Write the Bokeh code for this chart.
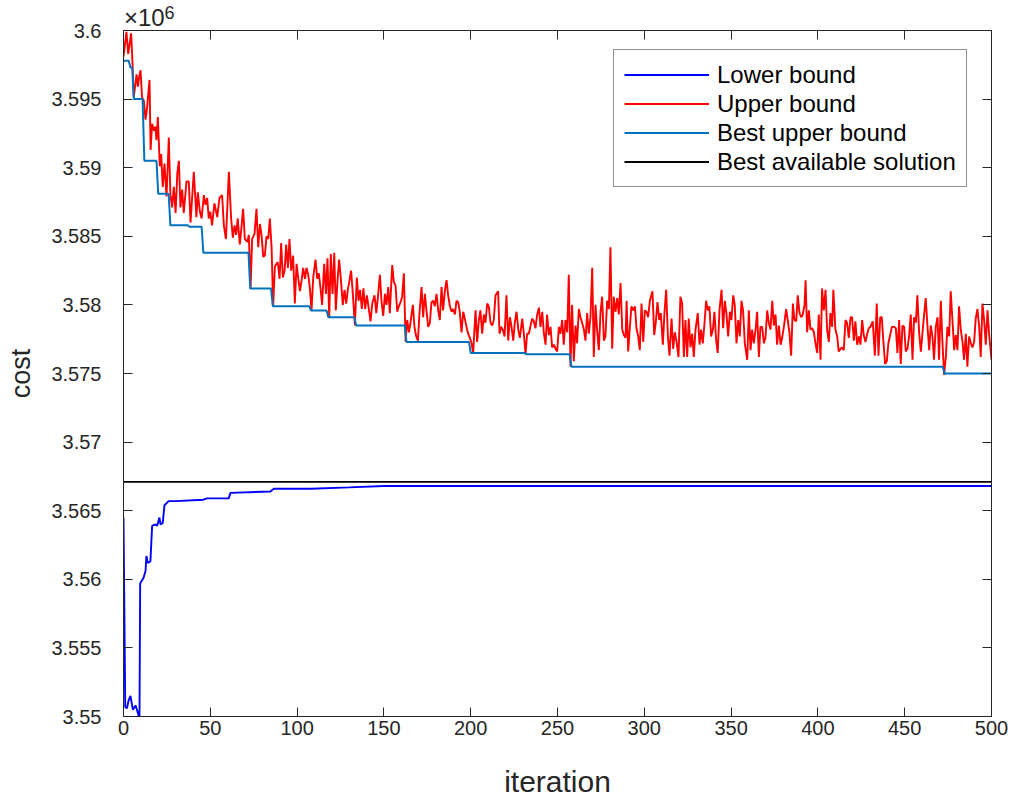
from bokeh.plotting import figure
from bokeh.models import Legend, LegendItem, LinearAxis, FixedTicker, Range1d
from bokeh.embed import file_html
from bokeh.resources import INLINE

# costs are in thousands (the axis shows them in units of 1e6)
x_ticks = [0, 50, 100, 150, 200, 250, 300, 350, 400, 450, 500]
y_ticks = [3550, 3555, 3560, 3565, 3570, 3575, 3580, 3585, 3590, 3595, 3600]
y_tick_labels = ["3.55", "3.555", "3.56", "3.565", "3.57", "3.575", "3.58", "3.585", "3.59", "3.595", "3.6"]
scale_text = "\u00d710"
scale_power = "6"

series_names = ["Lower bound", "Upper bound", "Best upper bound", "Best available solution"]

best_available = 3567.1

lower_bound = [(0, 3564.5), (1.0, 3550.7), (2.0, 3550.6), (3.0, 3551.2), (4.0, 3551.5), (5.4, 3550.5),
               (7.0, 3550.8), (8.4, 3550.2), (9.2, 3549.8), (9.6, 3559.7), (11.5, 3560.1), (12.7, 3560.6),
               (13.2, 3561.7), (14.0, 3561.2), (15.5, 3561.3), (16.5, 3563.9), (18.4, 3564.0), (19.4, 3563.9),
               (20.7, 3564.5), (21.3, 3564.0), (22.6, 3564.1), (23.6, 3565.4), (26.0, 3565.7), (30.0, 3565.7),
               (46.0, 3565.8), (48.0, 3565.9), (60.6, 3565.9), (61.6, 3566.3), (84.6, 3566.4), (86.6, 3566.6),
               (108.0, 3566.6), (130.0, 3566.7), (150.0, 3566.8), (500.0, 3566.8)]

best_ub_start = [0, 4, 6, 12, 20, 27, 38, 46, 73, 86, 108, 118, 134, 163, 200, 232, 258, 473]
best_ub_value = [3597.8, 3597.3, 3595.0, 3590.5, 3588.1, 3585.8, 3585.7, 3583.8, 3581.2, 3579.9,
                 3579.6, 3579.1, 3578.5, 3577.3, 3576.5, 3576.4, 3575.5, 3575.0]

upper_bound = [
    (0, 3598.1), (1.7, 3599.9), (2.7, 3598.3), (4.4, 3599.8), (5.2, 3597.6), (5.9, 3595.1), (7.5, 3596.8),
    (8.3, 3595.9), (9.0, 3596.6), (9.8, 3597.1), (10.7, 3595.1), (11.7, 3594.9), (12.7, 3593.5), (13.6, 3594.4),
    (15.0, 3596.4), (15.6, 3591.3), (16.5, 3593.2), (17.5, 3592.7), (18.4, 3593.0), (19.0, 3592.0), (19.8, 3593.7),
    (20.9, 3590.1), (21.7, 3591.0), (22.6, 3588.6), (23.6, 3590.3), (24.8, 3587.9), (26.1, 3592.2), (27.0, 3588.1),
    (28.0, 3587.1), (29.0, 3588.6), (30.0, 3586.7), (31.0, 3589.6), (31.9, 3590.5), (32.8, 3587.1), (33.8, 3588.4),
    (34.7, 3586.7), (36.3, 3589.0), (37.6, 3589.0), (38.6, 3586.0), (40.5, 3589.7), (42.0, 3586.4), (42.8, 3588.2),
    (44.0, 3586.8), (45.0, 3586.3), (46.3, 3588.0), (47.2, 3587.3), (48.2, 3587.8), (49.1, 3586.3), (50.0, 3586.8),
    (51.0, 3585.8), (52.4, 3587.4), (54.0, 3586.4), (55.3, 3587.8), (56.8, 3588.0), (57.8, 3585.8), (59.0, 3584.8),
    (60.7, 3589.7), (62.0, 3586.3), (63.0, 3584.9), (64.0, 3585.8), (64.9, 3585.1), (65.8, 3586.3), (67.0, 3584.4),
    (67.9, 3585.6), (68.9, 3587.0), (69.9, 3584.8), (71.3, 3584.6), (72.2, 3585.1), (73.2, 3581.2), (74.1, 3584.8),
    (75.5, 3585.2), (76.6, 3587.0), (77.6, 3584.2), (78.6, 3585.9), (79.5, 3585.1), (80.5, 3583.5), (81.4, 3583.6),
    (82.4, 3585.0), (83.4, 3584.8), (84.3, 3586.3), (85.3, 3584.2), (86.2, 3579.9), (87.2, 3582.8), (88.1, 3583.0),
    (88.9, 3583.1), (89.9, 3581.9), (90.8, 3584.5), (91.8, 3582.0), (92.8, 3582.5), (93.7, 3584.4), (94.7, 3582.7),
    (95.6, 3584.8), (96.6, 3582.5), (97.7, 3583.6), (98.7, 3580.1), (99.7, 3583.0), (100.6, 3582.0), (101.6, 3581.0),
    (102.5, 3581.7), (103.5, 3582.7), (104.5, 3581.9), (105.4, 3582.7), (106.4, 3582.2), (107.3, 3581.3),
    (108.3, 3579.6), (109.3, 3582.0), (110.6, 3583.3), (111.6, 3581.9), (112.5, 3582.3), (113.5, 3581.2),
    (114.4, 3580.0), (115.6, 3583.0), (116.6, 3580.8), (117.5, 3583.4), (118.5, 3579.1), (119.4, 3583.7),
    (120.4, 3580.8), (121.4, 3583.8), (122.3, 3579.6), (123.3, 3581.8), (124.2, 3583.3), (125.2, 3581.9),
    (126.3, 3580.0), (127.3, 3581.1), (128.3, 3580.1), (129.2, 3581.1), (130.2, 3581.8), (131.1, 3582.5),
    (132.1, 3580.8), (133.3, 3578.5), (134.4, 3582.0), (135.4, 3580.3), (136.3, 3581.1), (137.3, 3579.7),
    (138.2, 3581.2), (139.2, 3579.7), (140.2, 3580.7), (141.1, 3579.9), (142.3, 3578.8), (143.3, 3580.1),
    (144.6, 3580.7), (145.6, 3579.4), (146.5, 3580.5), (147.7, 3582.2), (148.6, 3580.3), (149.6, 3579.2),
    (150.6, 3580.8), (151.5, 3580.0), (152.5, 3581.3), (153.4, 3579.4), (154.8, 3582.9), (155.7, 3581.7),
    (156.7, 3581.4), (157.7, 3579.5), (158.6, 3579.9), (159.6, 3580.2), (160.5, 3580.6), (161.5, 3582.3),
    (162.5, 3577.3), (163.4, 3578.9), (164.4, 3578.0), (165.3, 3578.7), (166.7, 3580.0), (167.6, 3578.4),
    (168.6, 3577.7), (169.6, 3577.4), (170.5, 3579.4), (171.7, 3581.3), (172.6, 3579.1), (173.6, 3580.8),
    (174.5, 3579.6), (175.5, 3578.4), (176.5, 3578.7), (177.4, 3580.2), (178.4, 3580.3), (179.3, 3579.9),
    (180.3, 3580.8), (181.3, 3579.6), (182.2, 3578.9), (183.2, 3581.3), (184.1, 3579.6), (185.1, 3581.0),
    (186.1, 3581.8), (187.0, 3580.7), (188.0, 3579.9), (189.0, 3579.5), (189.9, 3579.7), (190.9, 3579.3),
    (191.8, 3580.3), (192.8, 3580.2), (193.7, 3579.5), (194.7, 3578.0), (195.7, 3579.5), (196.6, 3579.0),
    (197.6, 3578.4), (198.5, 3577.9), (199.5, 3577.6), (200.5, 3577.2), (201.4, 3576.5), (202.8, 3579.6),
    (203.7, 3577.3), (204.7, 3578.9), (205.6, 3579.6), (206.6, 3577.9), (207.6, 3579.3), (208.5, 3578.7),
    (209.5, 3580.1), (210.4, 3579.9), (211.4, 3578.7), (212.4, 3578.5), (213.3, 3578.9), (214.3, 3580.7),
    (215.8, 3581.0), (216.6, 3577.9), (217.6, 3578.4), (218.5, 3578.2), (219.5, 3577.7), (220.6, 3580.7),
    (221.6, 3577.4), (222.6, 3579.1), (223.5, 3578.4), (224.5, 3577.4), (225.4, 3578.7), (226.4, 3579.5),
    (227.4, 3578.2), (228.3, 3577.6), (229.7, 3579.0), (230.6, 3577.9), (231.6, 3576.4), (232.5, 3577.9),
    (233.5, 3577.9), (234.5, 3578.5), (235.4, 3579.0), (236.4, 3578.8), (237.3, 3578.3), (238.3, 3579.3),
    (239.3, 3579.8), (240.2, 3578.4), (241.2, 3579.5), (242.1, 3578.0), (243.1, 3577.1), (244.0, 3579.3),
    (245.0, 3577.8), (246.0, 3578.4), (246.9, 3576.9), (247.9, 3577.1), (248.9, 3576.8), (249.8, 3576.6),
    (250.8, 3578.4), (251.7, 3577.9), (252.7, 3578.9), (253.6, 3577.1), (254.6, 3578.9), (255.6, 3578.0),
    (256.5, 3582.2), (257.5, 3575.5), (258.4, 3580.0), (259.4, 3575.9), (260.4, 3578.5), (261.3, 3577.2),
    (262.3, 3579.7), (263.2, 3579.1), (264.2, 3578.7), (265.2, 3578.2), (266.1, 3577.4), (267.1, 3579.4),
    (268.0, 3577.9), (269.0, 3579.1), (270.0, 3582.7), (270.9, 3576.2), (271.9, 3580.0), (272.8, 3578.2),
    (273.8, 3576.7), (274.8, 3579.5), (275.7, 3580.6), (276.7, 3577.4), (277.6, 3577.7), (278.6, 3580.3),
    (279.6, 3579.7), (280.5, 3584.2), (281.5, 3576.8), (282.4, 3580.6), (283.4, 3579.5), (284.4, 3580.5),
    (285.3, 3579.3), (286.3, 3581.6), (287.3, 3578.2), (288.2, 3577.8), (289.2, 3577.6), (289.8, 3580.3),
    (290.7, 3576.6), (291.7, 3578.4), (292.6, 3579.9), (293.6, 3579.6), (294.6, 3579.9), (295.5, 3578.3),
    (296.5, 3577.7), (297.4, 3576.7), (298.4, 3580.1), (299.4, 3577.3), (300.3, 3579.6), (301.3, 3579.5),
    (302.2, 3579.1), (303.2, 3580.3), (304.7, 3581.0), (305.7, 3577.8), (306.6, 3578.7), (307.6, 3580.2),
    (308.6, 3578.9), (309.5, 3579.4), (310.7, 3577.1), (311.6, 3579.4), (312.6, 3581.1), (313.6, 3577.7),
    (314.5, 3576.3), (315.7, 3579.0), (316.6, 3576.8), (317.6, 3578.0), (318.5, 3577.4), (319.7, 3576.2),
    (320.8, 3580.6), (321.8, 3580.1), (322.8, 3576.2), (323.7, 3578.9), (324.7, 3576.2), (325.6, 3579.0),
    (326.6, 3576.9), (327.6, 3577.9), (328.5, 3576.2), (329.5, 3578.2), (330.8, 3579.4), (331.8, 3577.1),
    (332.7, 3578.2), (333.7, 3577.2), (334.7, 3578.7), (335.6, 3580.3), (336.6, 3579.6), (337.5, 3579.9),
    (338.5, 3577.7), (339.5, 3578.2), (340.4, 3579.5), (341.4, 3577.4), (342.3, 3576.5), (343.3, 3579.6),
    (344.5, 3581.1), (345.4, 3578.3), (346.4, 3580.3), (347.3, 3579.4), (348.3, 3577.7), (349.3, 3579.5),
    (350.2, 3578.9), (351.2, 3580.7), (352.1, 3580.0), (353.1, 3577.2), (354.1, 3578.9), (355.0, 3577.7),
    (356.0, 3580.3), (356.9, 3579.6), (357.9, 3577.2), (359.3, 3576.0), (360.2, 3579.6), (361.2, 3576.7),
    (362.1, 3578.2), (363.1, 3577.2), (364.1, 3578.2), (365.0, 3579.5), (366.0, 3576.2), (366.9, 3578.4),
    (367.9, 3578.4), (368.9, 3577.2), (369.8, 3577.6), (370.8, 3579.6), (371.7, 3578.7), (372.7, 3578.2),
    (373.7, 3580.3), (374.6, 3578.5), (375.6, 3579.3), (376.5, 3577.1), (377.5, 3578.5), (378.5, 3577.1),
    (379.4, 3577.6), (380.4, 3578.4), (381.7, 3579.7), (382.7, 3578.8), (383.6, 3578.0), (384.6, 3576.3),
    (385.6, 3580.1), (386.5, 3578.9), (387.5, 3578.8), (388.4, 3580.7), (389.4, 3579.4), (390.4, 3579.1),
    (391.3, 3579.3), (392.3, 3580.0), (392.9, 3581.8), (393.8, 3578.0), (394.8, 3579.6), (395.7, 3578.2),
    (396.7, 3578.3), (397.7, 3578.0), (398.6, 3577.2), (399.6, 3576.5), (400.5, 3579.3), (401.5, 3576.0),
    (402.4, 3581.2), (403.4, 3579.6), (404.4, 3581.1), (405.3, 3578.2), (406.3, 3577.3), (407.2, 3579.4),
    (408.2, 3578.4), (408.9, 3581.1), (410.1, 3578.2), (411.1, 3577.7), (412.0, 3576.6), (413.0, 3576.8),
    (413.9, 3576.9), (414.9, 3576.7), (415.9, 3578.9), (416.8, 3578.7), (417.8, 3577.6), (418.8, 3579.1),
    (419.7, 3579.1), (420.7, 3577.4), (421.6, 3578.8), (422.6, 3577.1), (423.6, 3577.7), (424.5, 3577.1),
    (425.5, 3578.9), (426.4, 3577.8), (427.4, 3577.3), (428.4, 3577.9), (429.3, 3578.3), (430.3, 3578.4),
    (431.6, 3578.8), (432.8, 3576.3), (433.9, 3580.1), (434.9, 3576.3), (435.9, 3579.1), (436.8, 3579.1),
    (437.8, 3577.2), (438.7, 3575.7), (439.7, 3575.9), (440.6, 3577.2), (441.6, 3577.8), (442.6, 3578.4),
    (443.9, 3578.4), (444.9, 3578.3), (445.8, 3576.5), (446.8, 3578.9), (447.7, 3575.7), (448.7, 3578.5),
    (449.7, 3578.4), (450.6, 3576.6), (451.6, 3576.8), (452.5, 3577.7), (453.5, 3579.3), (454.5, 3576.0),
    (455.4, 3579.1), (456.4, 3578.7), (457.3, 3580.7), (458.3, 3578.0), (459.3, 3576.6), (460.2, 3577.9),
    (461.2, 3579.3), (462.1, 3580.5), (463.1, 3578.5), (464.1, 3576.7), (465.0, 3578.5), (466.0, 3577.7),
    (466.9, 3576.0), (467.9, 3578.4), (468.9, 3579.1), (469.8, 3576.0), (470.8, 3580.3), (471.7, 3577.4),
    (472.7, 3574.9), (473.7, 3576.2), (474.6, 3578.4), (475.6, 3577.7), (476.5, 3581.0), (477.5, 3578.9),
    (478.5, 3576.7), (479.4, 3577.8), (480.4, 3576.7), (481.3, 3579.9), (482.3, 3578.2), (483.3, 3577.3),
    (484.2, 3576.0), (485.2, 3577.9), (486.1, 3575.5), (487.1, 3577.7), (488.1, 3577.2), (489.0, 3576.9),
    (490.0, 3577.3), (490.9, 3579.0), (491.9, 3579.7), (492.9, 3578.4), (493.8, 3576.2), (494.8, 3580.1),
    (495.8, 3578.8), (496.7, 3577.1), (497.7, 3579.6), (498.6, 3577.9), (500.0, 3576.0),
]

ub_iter = [a for a, b in upper_bound]
ub_cost = [b for a, b in upper_bound]
lb_iter = [a for a, b in lower_bound]
lb_cost = [b for a, b in lower_bound]

bub_x, bub_y = [], []
for k, (s, v) in enumerate(zip(best_ub_start, best_ub_value)):
    e = best_ub_start[k + 1] - 1 if k + 1 < len(best_ub_start) else 500
    bub_x += [s, e]
    bub_y += [v, v]

AX = "#262626"
FONT = "Liberation Sans"

p = figure(width=1008, height=800, output_backend="svg", toolbar_location=None,
           x_range=Range1d(0, 500), y_range=Range1d(3550, 3600),
           min_border_left=123, min_border_right=17, min_border_top=30, min_border_bottom=83)
p.xgrid.visible = False
p.ygrid.visible = False
p.outline_line_color = AX
p.outline_line_width = 1
p.background_fill_color = "white"
p.border_fill_color = "white"

r_lb = p.line(lb_iter, lb_cost, line_color="#0000FF", line_width=1.9)
r_ub = p.line(ub_iter, ub_cost, line_color="#FF0000", line_width=1.9)
r_bub = p.line(bub_x, bub_y, line_color="#0072BD", line_width=2.0)
r_ba = p.line([0, 500], [best_available, best_available], line_color="#000000", line_width=1.8)

def style_axis(ax, show_labels=True):
    ax.axis_line_color = AX
    ax.major_tick_line_color = AX
    ax.major_tick_in = 9
    ax.major_tick_out = 0
    ax.minor_tick_line_color = None
    ax.major_label_text_font = FONT
    ax.major_label_text_font_size = "20px"
    ax.major_label_text_color = AX
    ax.axis_label_text_font = FONT
    ax.axis_label_text_font_size = "27px"
    ax.axis_label_text_font_style = "normal"
    ax.axis_label_text_color = AX
    if not show_labels:
        ax.major_label_text_font_size = "0px"
        ax.major_label_text_color = None
        ax.major_label_standoff = 0

p.xaxis.ticker = FixedTicker(ticks=x_ticks)
p.yaxis.ticker = FixedTicker(ticks=y_ticks)
p.yaxis.major_label_overrides = dict(zip(y_ticks, y_tick_labels))
p.xaxis.axis_label = "iteration"
p.yaxis.axis_label = "cost"
style_axis(p.xaxis[0])
style_axis(p.yaxis[0])
p.xaxis.axis_label_text_font_size = "30px"
p.xaxis.major_label_standoff = 4
p.yaxis.major_label_standoff = 22
p.xaxis.axis_label_standoff = 27
p.yaxis.axis_label_standoff = 12

top_ax = LinearAxis(ticker=FixedTicker(ticks=x_ticks))
right_ax = LinearAxis(ticker=FixedTicker(ticks=y_ticks))
style_axis(top_ax, False)
style_axis(right_ax, False)
p.add_layout(top_ax, "above")
p.add_layout(right_ax, "right")

def text_axis(tick, text, size, standoff):
    ax = LinearAxis(ticker=FixedTicker(ticks=[tick]), major_label_overrides={tick: text})
    ax.axis_line_color = None
    ax.major_tick_line_color = None
    ax.minor_tick_line_color = None
    ax.major_tick_in = 0
    ax.major_tick_out = 0
    ax.major_label_standoff = standoff
    ax.major_label_text_font = FONT
    ax.major_label_text_font_size = size
    ax.major_label_text_color = AX
    return ax

# "x10^6" multiplier drawn as labels of two extra, tick-less top axes
p.add_layout(text_axis(12, scale_text, "24px", 0), "above")
p.add_layout(text_axis(26.5, scale_power, "18px", -18), "above")

legend = Legend(items=[LegendItem(label=series_names[0], renderers=[r_lb]),
                       LegendItem(label=series_names[1], renderers=[r_ub]),
                       LegendItem(label=series_names[2], renderers=[r_bub]),
                       LegendItem(label=series_names[3], renderers=[r_ba])],
                location=(490, 529), margin=0, padding=10, spacing=0,
                glyph_width=85, glyph_height=29, label_height=29, label_standoff=8,
                label_text_font=FONT, label_text_font_size="24px", label_text_color="#000000",
                border_line_color=AX, border_line_width=1, background_fill_color="white",
                background_fill_alpha=1.0)
p.add_layout(legend, "center")

open("out.html", "w").write(file_html(p, INLINE))
